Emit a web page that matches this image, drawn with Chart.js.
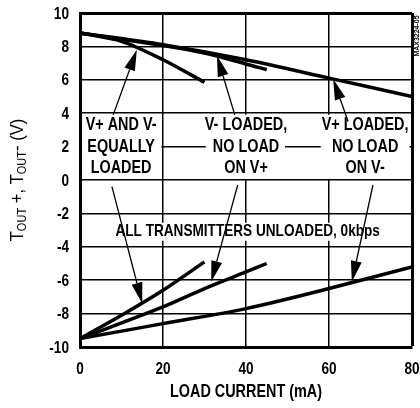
<!DOCTYPE html>
<html>
<head>
<meta charset="utf-8">
<script src="https://cdn.jsdelivr.net/npm/chart.js@4.4.0/dist/chart.umd.min.js"></script>
<style>
  html, body { margin: 0; padding: 0; background: #fff; }
</style>
</head>
<body>
<canvas id="chart" width="420" height="408"></canvas>
<script>
// Load current (mA) for each curve
var currentEqual = [0, 10, 20, 30];
var currentVminus = [0, 20, 30, 40, 45];
var currentVplus = [0, 20, 40, 60, 80];

// Tout+ (upper curves), V
var toutPosEqual = [8.8, 8.3, 7.2, 5.85];
var toutPosVminus = [8.8, 8.05, 7.6, 6.95, 6.6];
var toutPosVplus = [8.8, 8.1, 7.2, 6.1, 5.0];

// Tout- (lower curves), V
var toutNegEqual = [-9.5, -8.1, -6.6, -4.9];
var toutNegVminus = [-9.5, -7.6, -6.5, -5.5, -5.0];
var toutNegVplus = [-9.5, -8.6, -7.7, -6.5, -5.2];

// Annotation text
var labelEqual = ['V+ AND V-', 'EQUALLY', 'LOADED'];
var labelVminus = ['V- LOADED,', 'NO LOAD', 'ON V+'];
var labelVplus = ['V+ LOADED,', 'NO LOAD', 'ON V-'];
var labelUnloaded = 'ALL TRANSMITTERS UNLOADED, 0kbps';
var xTitle = 'LOAD CURRENT (mA)';

// no narrow font installed, so squeeze Liberation Sans sideways
var fontFamily = "'Liberation Sans', Arial, sans-serif";
var squeeze = 0.8;

function setFont(ctx, size) {
    ctx.font = 'bold ' + size + 'px ' + fontFamily;
}

function narrowText(ctx, text, x, y, size, align) {
    ctx.save();
    ctx.translate(x, y);
    ctx.scale(squeeze, 1);
    setFont(ctx, size);
    ctx.textAlign = align || 'center';
    ctx.textBaseline = 'middle';
    ctx.fillText(text, 0, 0);
    ctx.restore();
}

function pts(xs, ys) {
    return xs.map(function (x, i) { return { x: x, y: ys[i] }; });
}

function drawArrow(ctx, x0, y0, x1, y1) {
    var ang = Math.atan2(y1 - y0, x1 - x0);
    var len = 21, half = 5.5;
    var bx = x1 - len * Math.cos(ang), by = y1 - len * Math.sin(ang);
    ctx.beginPath();
    ctx.moveTo(x0, y0);
    ctx.lineTo(bx, by);
    ctx.stroke();
    ctx.beginPath();
    ctx.moveTo(x1, y1);
    ctx.lineTo(bx + half * Math.sin(ang), by - half * Math.cos(ang));
    ctx.lineTo(bx - half * Math.sin(ang), by + half * Math.cos(ang));
    ctx.closePath();
    ctx.fill();
}

var notes = {
    id: 'notes',
    beforeDatasetsDraw: function (chart) {
        var ctx = chart.ctx, x = chart.scales.x, y = chart.scales.y;
        ctx.save();
        ctx.fillStyle = '#fff';
        // white boxes behind the three label blocks (band between 4 V and 0 V)
        var top = y.getPixelForValue(4) + 1.5, bot = y.getPixelForValue(0) - 1;
        [[0.5, 19.6], [30.3, 49.4], [58, 79.4]].forEach(function (s) {
            var a = x.getPixelForValue(s[0]), b = x.getPixelForValue(s[1]);
            ctx.fillRect(a, top, b - a, bot - top);
        });
        setFont(ctx, 17);
        var w = ctx.measureText(labelUnloaded).width * squeeze;
        var cx = x.getPixelForValue(40.4), cy = y.getPixelForValue(-3.1);
        ctx.fillRect(cx - w / 2 - 2, cy - 9, w + 4, 18);
        ctx.restore();
    },
    afterDatasetsDraw: function (chart) {
        var ctx = chart.ctx, x = chart.scales.x, y = chart.scales.y;
        ctx.save();
        ctx.fillStyle = '#000';
        ctx.strokeStyle = '#000';
        var rows = [3.3, 2.0, 0.7];
        [[labelEqual, 9.9], [labelVminus, 40], [labelVplus, 68.7]].forEach(function (l) {
            l[0].forEach(function (t, i) {
                narrowText(ctx, t, x.getPixelForValue(l[1]), y.getPixelForValue(rows[i]), 18);
            });
        });
        narrowText(ctx, labelUnloaded, x.getPixelForValue(40.4), y.getPixelForValue(-3.1), 17);

        // arrows from labels to curves [x0, y0, x1, y1] in data units
        ctx.lineWidth = 1.3;
        [[8, 3.9, 13.7, 7.8], [37.3, 3.9, 33, 7.45], [64.6, 3.5, 61, 6.05],
         [7.7, -0.4, 15, -7.4], [38, -0.3, 31.6, -6.1], [70.6, -0.3, 65.5, -6.1]].forEach(function (a) {
            drawArrow(ctx, x.getPixelForValue(a[0]), y.getPixelForValue(a[1]),
                x.getPixelForValue(a[2]), y.getPixelForValue(a[3]));
        });
        ctx.restore();
    },
    afterDraw: function (chart) {
        var ctx = chart.ctx, x = chart.scales.x, y = chart.scales.y;
        ctx.save();
        ctx.fillStyle = '#000';

        // tick labels from the scales' own ticks
        y.ticks.forEach(function (t, i) {
            narrowText(ctx, String(t.value), 69, y.getPixelForTick(i) + 1, 17, 'right');
        });
        x.ticks.forEach(function (t, i) {
            narrowText(ctx, String(t.value), x.getPixelForTick(i), 369, 17, 'center');
        });

        // x axis title
        narrowText(ctx, xTitle, (chart.chartArea.left + chart.chartArea.right) / 2, 392, 18, 'center');

        // y axis title with subscript OUT
        var titleSqueeze = 0.92;
        var parts = [['T', 18, 0], ['OUT', 12, 3], [' +, ', 18, 0], ['T', 18, 0], ['OUT', 12, 3], ['- (V)', 18, 0]];
        var total = 0;
        parts.forEach(function (p) {
            ctx.font = p[1] + 'px ' + fontFamily;
            p.push(ctx.measureText(p[0]).width * titleSqueeze);
            total += p[3];
        });
        ctx.save();
        ctx.translate(17, (chart.chartArea.top + chart.chartArea.bottom) / 2);
        ctx.rotate(-Math.PI / 2);
        ctx.textBaseline = 'alphabetic';
        var px = -total / 2;
        parts.forEach(function (p) {
            ctx.save();
            ctx.translate(px, 6 + p[2]);
            ctx.scale(titleSqueeze, 1);
            ctx.font = p[1] + 'px ' + fontFamily;
            ctx.fillText(p[0], 0, 0);
            ctx.restore();
            px += p[3];
        });
        ctx.restore();

        // small part number at the right edge
        ctx.font = 'bold 7px ' + fontFamily;
        ctx.translate(417, 36);
        ctx.rotate(-Math.PI / 2);
        ctx.textAlign = 'center';
        ctx.textBaseline = 'middle';
        ctx.fillText('MAX3224-05', 0, 0);
        ctx.restore();
    }
};

function series(xs, ys) {
    return {
        data: pts(xs, ys),
        borderColor: '#000',
        borderWidth: 3.5,
        pointRadius: 0,
        tension: 0.3,
        fill: false
    };
}

var chart = new Chart(document.getElementById('chart'), {
    type: 'line',
    data: {
        datasets: [
            series(currentEqual, toutPosEqual),
            series(currentVminus, toutPosVminus),
            series(currentVplus, toutPosVplus),
            series(currentEqual, toutNegEqual),
            series(currentVminus, toutNegVminus),
            series(currentVplus, toutNegVplus)
        ]
    },
    options: {
        responsive: false,
        animation: false,
        layout: { padding: { top: 13, right: 8, left: 0, bottom: 0 } },
        plugins: { legend: { display: false }, tooltip: { enabled: false } },
        scales: {
            x: {
                type: 'linear',
                min: 0,
                max: 80,
                ticks: { stepSize: 20, display: false },
                grid: {
                    color: '#000',
                    drawTicks: false,
                    lineWidth: function (c) { return c.tick && c.tick.value === 80 ? 3 : 1.5; }
                },
                border: { color: '#000', width: 3 },
                afterFit: function (s) { s.height = 61; s.paddingLeft = 0; s.paddingRight = 0; }
            },
            y: {
                min: -10,
                max: 10,
                ticks: { stepSize: 2, display: false },
                grid: {
                    color: '#000',
                    drawTicks: false,
                    lineWidth: function (c) { return c.tick && c.tick.value === 10 ? 3 : 1.5; }
                },
                border: { color: '#000', width: 3 },
                afterFit: function (s) { s.width = 80; s.paddingTop = 0; s.paddingBottom = 0; }
            }
        }
    },
    plugins: [notes]
});
</script>
</body>
</html>
